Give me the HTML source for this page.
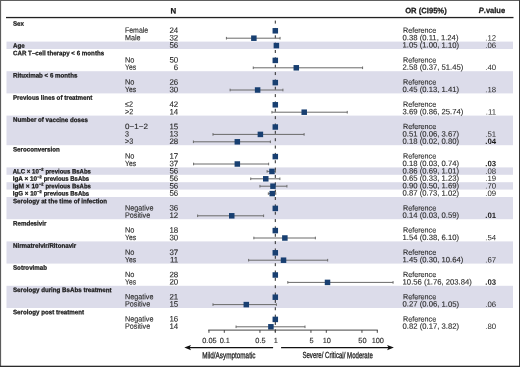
<!DOCTYPE html><html><head><meta charset="utf-8"><style>html,body{margin:0;padding:0;background:#fff}svg{display:block;will-change:transform}text{font-family:"Liberation Sans",sans-serif}.b{stroke:#1a1a1a;stroke-width:0.25px}.r{stroke:#2a2a2a;stroke-width:0.12px}.m{stroke:#222;stroke-width:0.3px}</style></head><body>
<svg width="520" height="367" viewBox="0 0 520 367">
<rect x="0" y="0" width="520" height="367" fill="#fff"/>
<rect x="6.5" y="41.60" width="506.5" height="7.40" fill="#dcdcea"/>
<rect x="6.5" y="71.20" width="506.5" height="22.20" fill="#dcdcea"/>
<rect x="6.5" y="115.60" width="506.5" height="29.60" fill="#dcdcea"/>
<rect x="6.5" y="167.40" width="506.5" height="7.40" fill="#dcdcea"/>
<rect x="6.5" y="182.20" width="506.5" height="7.40" fill="#dcdcea"/>
<rect x="6.5" y="197.00" width="506.5" height="22.20" fill="#dcdcea"/>
<rect x="6.5" y="241.40" width="506.5" height="22.20" fill="#dcdcea"/>
<rect x="6.5" y="285.80" width="506.5" height="22.20" fill="#dcdcea"/>
<text class="b" x="173.4" y="13.6" font-size="7.9" font-weight="bold" fill="#1a1a1a" text-anchor="middle" transform="rotate(0.05 173.4 13.6)">N</text>
<text class="b" x="405.2" y="13.2" font-size="7.9" font-weight="bold" fill="#1a1a1a" textLength="41.5" lengthAdjust="spacingAndGlyphs" transform="rotate(0.05 405.2 13.2)">OR (CI95%)</text>
<text class="b" x="478.8" y="12.9" font-size="7.9" font-weight="bold" fill="#1a1a1a" textLength="26.3" lengthAdjust="spacingAndGlyphs" transform="rotate(0.05 478.8 12.9)"><tspan font-style="italic">P</tspan>.value</text>
<rect x="6" y="16.9" width="507.5" height="1.3" fill="#222"/>
<line x1="275.3" y1="20.6" x2="275.3" y2="333" stroke="#2a2a2a" stroke-width="1" stroke-dasharray="3 4.35"/>
<text x="13" y="25.65" class="b" font-size="6.45" font-weight="bold" fill="#1a1a1a" textLength="11.00" lengthAdjust="spacingAndGlyphs" transform="rotate(0.05 13 25.65)">Sex</text>
<text x="125" y="32.80" class="r" font-size="7.7" fill="#2a2a2a" textLength="23.17" lengthAdjust="spacingAndGlyphs" transform="rotate(0.05 125 32.80)">Female</text>
<text x="178.2" y="33.00" class="r" font-size="7.9" fill="#2a2a2a" text-anchor="end" transform="rotate(0.05 178.2 33.00)">24</text>
<text x="403" y="32.80" class="r" font-size="7.4" fill="#2a2a2a" textLength="33.2" lengthAdjust="spacingAndGlyphs" transform="rotate(0.05 403 32.80)">Reference</text>
<rect x="272.55" y="28.05" width="5.5" height="5.5" fill="#183f71"/>
<text x="125" y="40.20" class="r" font-size="7.7" fill="#2a2a2a" textLength="15.60" lengthAdjust="spacingAndGlyphs" transform="rotate(0.05 125 40.20)">Male</text>
<text x="178.2" y="40.40" class="r" font-size="7.9" fill="#2a2a2a" text-anchor="end" transform="rotate(0.05 178.2 40.40)">32</text>
<text x="402.6" y="40.20" class="r" font-size="7.7" fill="#2a2a2a" transform="rotate(0.05 402.6 40.20)">0.38 (0.11, 1.24)</text>
<text x="496.1" y="40.50" font-size="7.8" fill="#2a2a2a" text-anchor="end" transform="rotate(0.05 496.1 40.50)">.12</text>
<line x1="226.41" y1="38.20" x2="280.06" y2="38.20" stroke="#6a6a6a" stroke-width="1"/>
<line x1="226.41" y1="36.90" x2="226.41" y2="39.50" stroke="#6a6a6a" stroke-width="1"/>
<line x1="280.06" y1="36.90" x2="280.06" y2="39.50" stroke="#6a6a6a" stroke-width="1"/>
<rect x="251.12" y="35.45" width="5.5" height="5.5" fill="#183f71"/>
<text x="13" y="47.85" class="b" font-size="6.45" font-weight="bold" fill="#1a1a1a" textLength="11.67" lengthAdjust="spacingAndGlyphs" transform="rotate(0.05 13 47.85)">Age</text>
<text x="178.2" y="47.80" class="r" font-size="7.9" fill="#2a2a2a" text-anchor="end" transform="rotate(0.05 178.2 47.80)">56</text>
<text x="402.6" y="47.60" class="r" font-size="7.7" fill="#2a2a2a" transform="rotate(0.05 402.6 47.60)">1.05 (1.00, 1.10)</text>
<text x="496.1" y="47.90" font-size="7.8" fill="#2a2a2a" text-anchor="end" transform="rotate(0.05 496.1 47.90)">.06</text>
<line x1="275.30" y1="45.60" x2="277.41" y2="45.60" stroke="#6a6a6a" stroke-width="1"/>
<line x1="275.30" y1="44.30" x2="275.30" y2="46.90" stroke="#6a6a6a" stroke-width="1"/>
<line x1="277.41" y1="44.30" x2="277.41" y2="46.90" stroke="#6a6a6a" stroke-width="1"/>
<rect x="273.63" y="42.85" width="5.5" height="5.5" fill="#183f71"/>
<text x="13" y="55.25" class="b" font-size="6.45" font-weight="bold" fill="#1a1a1a" textLength="91.17" lengthAdjust="spacingAndGlyphs" transform="rotate(0.05 13 55.25)">CAR T–cell therapy &lt; 6 months</text>
<text x="125" y="62.40" class="r" font-size="7.7" fill="#2a2a2a" textLength="9.46" lengthAdjust="spacingAndGlyphs" transform="rotate(0.05 125 62.40)">No</text>
<text x="178.2" y="62.60" class="r" font-size="7.9" fill="#2a2a2a" text-anchor="end" transform="rotate(0.05 178.2 62.60)">50</text>
<text x="403" y="62.40" class="r" font-size="7.4" fill="#2a2a2a" textLength="33.2" lengthAdjust="spacingAndGlyphs" transform="rotate(0.05 403 62.40)">Reference</text>
<rect x="272.55" y="57.65" width="5.5" height="5.5" fill="#183f71"/>
<text x="125" y="69.80" class="r" font-size="7.7" fill="#2a2a2a" textLength="11.09" lengthAdjust="spacingAndGlyphs" transform="rotate(0.05 125 69.80)">Yes</text>
<text x="178.2" y="70.00" class="r" font-size="7.9" fill="#2a2a2a" text-anchor="end" transform="rotate(0.05 178.2 70.00)">6</text>
<text x="402.6" y="69.80" class="r" font-size="7.7" fill="#2a2a2a" transform="rotate(0.05 402.6 69.80)">2.58 (0.37, 51.45)</text>
<text x="496.1" y="70.10" font-size="7.8" fill="#2a2a2a" text-anchor="end" transform="rotate(0.05 496.1 70.10)">.40</text>
<line x1="253.28" y1="67.80" x2="362.58" y2="67.80" stroke="#6a6a6a" stroke-width="1"/>
<line x1="253.28" y1="66.50" x2="253.28" y2="69.10" stroke="#6a6a6a" stroke-width="1"/>
<line x1="362.58" y1="66.50" x2="362.58" y2="69.10" stroke="#6a6a6a" stroke-width="1"/>
<rect x="293.54" y="65.05" width="5.5" height="5.5" fill="#183f71"/>
<text x="13" y="77.45" class="b" font-size="6.45" font-weight="bold" fill="#1a1a1a" textLength="64.38" lengthAdjust="spacingAndGlyphs" transform="rotate(0.05 13 77.45)">Rituximab &lt; 6 months</text>
<text x="125" y="84.60" class="r" font-size="7.7" fill="#2a2a2a" textLength="9.46" lengthAdjust="spacingAndGlyphs" transform="rotate(0.05 125 84.60)">No</text>
<text x="178.2" y="84.80" class="r" font-size="7.9" fill="#2a2a2a" text-anchor="end" transform="rotate(0.05 178.2 84.80)">26</text>
<text x="403" y="84.60" class="r" font-size="7.4" fill="#2a2a2a" textLength="33.2" lengthAdjust="spacingAndGlyphs" transform="rotate(0.05 403 84.60)">Reference</text>
<rect x="272.55" y="79.85" width="5.5" height="5.5" fill="#183f71"/>
<text x="125" y="92.00" class="r" font-size="7.7" fill="#2a2a2a" textLength="11.09" lengthAdjust="spacingAndGlyphs" transform="rotate(0.05 125 92.00)">Yes</text>
<text x="178.2" y="92.20" class="r" font-size="7.9" fill="#2a2a2a" text-anchor="end" transform="rotate(0.05 178.2 92.20)">30</text>
<text x="402.6" y="92.00" class="r" font-size="7.7" fill="#2a2a2a" transform="rotate(0.05 402.6 92.00)">0.45 (0.13, 1.41)</text>
<text x="496.1" y="92.30" font-size="7.8" fill="#2a2a2a" text-anchor="end" transform="rotate(0.05 496.1 92.30)">.18</text>
<line x1="230.11" y1="90.00" x2="282.91" y2="90.00" stroke="#6a6a6a" stroke-width="1"/>
<line x1="230.11" y1="88.70" x2="230.11" y2="91.30" stroke="#6a6a6a" stroke-width="1"/>
<line x1="282.91" y1="88.70" x2="282.91" y2="91.30" stroke="#6a6a6a" stroke-width="1"/>
<rect x="254.86" y="87.25" width="5.5" height="5.5" fill="#183f71"/>
<text x="13" y="99.65" class="b" font-size="6.45" font-weight="bold" fill="#1a1a1a" textLength="79.33" lengthAdjust="spacingAndGlyphs" transform="rotate(0.05 13 99.65)">Previous lines of treatment</text>
<text x="125" y="106.80" class="r" font-size="7.7" fill="#2a2a2a" textLength="7.96" lengthAdjust="spacingAndGlyphs" transform="rotate(0.05 125 106.80)">≤2</text>
<text x="178.2" y="107.00" class="r" font-size="7.9" fill="#2a2a2a" text-anchor="end" transform="rotate(0.05 178.2 107.00)">42</text>
<text x="403" y="106.80" class="r" font-size="7.4" fill="#2a2a2a" textLength="33.2" lengthAdjust="spacingAndGlyphs" transform="rotate(0.05 403 106.80)">Reference</text>
<rect x="272.55" y="102.05" width="5.5" height="5.5" fill="#183f71"/>
<text x="125" y="114.20" class="r" font-size="7.7" fill="#2a2a2a" textLength="8.21" lengthAdjust="spacingAndGlyphs" transform="rotate(0.05 125 114.20)">&gt;2</text>
<text x="178.2" y="114.40" class="r" font-size="7.9" fill="#2a2a2a" text-anchor="end" transform="rotate(0.05 178.2 114.40)">14</text>
<text x="402.6" y="114.20" class="r" font-size="7.7" fill="#2a2a2a" transform="rotate(0.05 402.6 114.20)">3.69 (0.86, 25.74)</text>
<text x="496.1" y="114.50" font-size="7.8" fill="#2a2a2a" text-anchor="end" transform="rotate(0.05 496.1 114.50)">.11</text>
<line x1="271.96" y1="112.20" x2="347.24" y2="112.20" stroke="#6a6a6a" stroke-width="1"/>
<line x1="271.96" y1="110.90" x2="271.96" y2="113.50" stroke="#6a6a6a" stroke-width="1"/>
<line x1="347.24" y1="110.90" x2="347.24" y2="113.50" stroke="#6a6a6a" stroke-width="1"/>
<rect x="301.47" y="109.45" width="5.5" height="5.5" fill="#183f71"/>
<text x="13" y="121.85" class="b" font-size="6.45" font-weight="bold" fill="#1a1a1a" textLength="74.87" lengthAdjust="spacingAndGlyphs" transform="rotate(0.05 13 121.85)">Number of vaccine doses</text>
<text x="125" y="129.00" class="r" font-size="7.7" fill="#2a2a2a" textLength="22.90" lengthAdjust="spacingAndGlyphs" transform="rotate(0.05 125 129.00)">0−1−2</text>
<text x="178.2" y="129.20" class="r" font-size="7.9" fill="#2a2a2a" text-anchor="end" transform="rotate(0.05 178.2 129.20)">15</text>
<text x="403" y="129.00" class="r" font-size="7.4" fill="#2a2a2a" textLength="33.2" lengthAdjust="spacingAndGlyphs" transform="rotate(0.05 403 129.00)">Reference</text>
<rect x="272.55" y="124.25" width="5.5" height="5.5" fill="#183f71"/>
<text x="125" y="136.40" class="r" font-size="7.7" fill="#2a2a2a" textLength="4.00" lengthAdjust="spacingAndGlyphs" transform="rotate(0.05 125 136.40)">3</text>
<text x="178.2" y="136.60" class="r" font-size="7.9" fill="#2a2a2a" text-anchor="end" transform="rotate(0.05 178.2 136.60)">13</text>
<text x="402.6" y="136.40" class="r" font-size="7.7" fill="#2a2a2a" transform="rotate(0.05 402.6 136.40)">0.51 (0.06, 3.67)</text>
<text x="496.1" y="136.70" font-size="7.8" fill="#2a2a2a" text-anchor="end" transform="rotate(0.05 496.1 136.70)">.51</text>
<line x1="212.99" y1="134.40" x2="304.10" y2="134.40" stroke="#6a6a6a" stroke-width="1"/>
<line x1="212.99" y1="133.10" x2="212.99" y2="135.70" stroke="#6a6a6a" stroke-width="1"/>
<line x1="304.10" y1="133.10" x2="304.10" y2="135.70" stroke="#6a6a6a" stroke-width="1"/>
<rect x="257.64" y="131.65" width="5.5" height="5.5" fill="#183f71"/>
<text x="125" y="143.80" class="r" font-size="7.7" fill="#2a2a2a" textLength="8.21" lengthAdjust="spacingAndGlyphs" transform="rotate(0.05 125 143.80)">&gt;3</text>
<text x="178.2" y="144.00" class="r" font-size="7.9" fill="#2a2a2a" text-anchor="end" transform="rotate(0.05 178.2 144.00)">28</text>
<text x="402.6" y="143.80" class="r" font-size="7.7" fill="#2a2a2a" transform="rotate(0.05 402.6 143.80)">0.18 (0.02, 0.80)</text>
<text x="496.1" y="144.10" font-size="7.8" fill="#1a1a1a" text-anchor="end" font-weight="bold" transform="rotate(0.05 496.1 144.10)">.04</text>
<line x1="193.40" y1="141.80" x2="270.36" y2="141.80" stroke="#6a6a6a" stroke-width="1"/>
<line x1="193.40" y1="140.50" x2="193.40" y2="143.10" stroke="#6a6a6a" stroke-width="1"/>
<line x1="270.36" y1="140.50" x2="270.36" y2="143.10" stroke="#6a6a6a" stroke-width="1"/>
<rect x="234.57" y="139.05" width="5.5" height="5.5" fill="#183f71"/>
<text x="13" y="151.45" class="b" font-size="6.45" font-weight="bold" fill="#1a1a1a" textLength="46.71" lengthAdjust="spacingAndGlyphs" transform="rotate(0.05 13 151.45)">Seroconversion</text>
<text x="125" y="158.60" class="r" font-size="7.7" fill="#2a2a2a" textLength="9.46" lengthAdjust="spacingAndGlyphs" transform="rotate(0.05 125 158.60)">No</text>
<text x="178.2" y="158.80" class="r" font-size="7.9" fill="#2a2a2a" text-anchor="end" transform="rotate(0.05 178.2 158.80)">17</text>
<text x="403" y="158.60" class="r" font-size="7.4" fill="#2a2a2a" textLength="33.2" lengthAdjust="spacingAndGlyphs" transform="rotate(0.05 403 158.60)">Reference</text>
<rect x="272.55" y="153.85" width="5.5" height="5.5" fill="#183f71"/>
<text x="125" y="166.00" class="r" font-size="7.7" fill="#2a2a2a" textLength="11.09" lengthAdjust="spacingAndGlyphs" transform="rotate(0.05 125 166.00)">Yes</text>
<text x="178.2" y="166.20" class="r" font-size="7.9" fill="#2a2a2a" text-anchor="end" transform="rotate(0.05 178.2 166.20)">37</text>
<text x="402.6" y="166.00" class="r" font-size="7.7" fill="#2a2a2a" transform="rotate(0.05 402.6 166.00)">0.18 (0.03, 0.74)</text>
<text x="496.1" y="166.30" font-size="7.8" fill="#1a1a1a" text-anchor="end" font-weight="bold" transform="rotate(0.05 496.1 166.30)">.03</text>
<line x1="193.59" y1="164.00" x2="268.63" y2="164.00" stroke="#6a6a6a" stroke-width="1"/>
<line x1="193.59" y1="162.70" x2="193.59" y2="165.30" stroke="#6a6a6a" stroke-width="1"/>
<line x1="268.63" y1="162.70" x2="268.63" y2="165.30" stroke="#6a6a6a" stroke-width="1"/>
<rect x="234.57" y="161.25" width="5.5" height="5.5" fill="#183f71"/>
<text x="12.7" y="173.40" class="b" font-size="6.45" font-weight="bold" fill="#1a1a1a" textLength="26.10" lengthAdjust="spacingAndGlyphs" transform="rotate(0.05 12.7 173.40)">ALC × 10</text>
<text x="38.90" y="170.80" class="b" font-size="4.0" font-weight="bold" fill="#1a1a1a" transform="rotate(0.05 38.90 170.80)">−2</text>
<text x="45.40" y="173.40" class="b" font-size="6.45" font-weight="bold" fill="#1a1a1a" textLength="45.50" lengthAdjust="spacingAndGlyphs" transform="rotate(0.05 45.40 173.40)">previous BsAbs</text>
<text x="178.2" y="173.60" class="r" font-size="7.9" fill="#2a2a2a" text-anchor="end" transform="rotate(0.05 178.2 173.60)">56</text>
<text x="402.6" y="173.40" class="r" font-size="7.7" fill="#2a2a2a" transform="rotate(0.05 402.6 173.40)">0.86 (0.69, 1.01)</text>
<text x="496.1" y="173.70" font-size="7.8" fill="#2a2a2a" text-anchor="end" transform="rotate(0.05 496.1 173.70)">.08</text>
<line x1="267.08" y1="171.40" x2="275.52" y2="171.40" stroke="#6a6a6a" stroke-width="1"/>
<line x1="267.08" y1="170.10" x2="267.08" y2="172.70" stroke="#6a6a6a" stroke-width="1"/>
<line x1="275.52" y1="170.10" x2="275.52" y2="172.70" stroke="#6a6a6a" stroke-width="1"/>
<rect x="269.21" y="168.65" width="5.5" height="5.5" fill="#183f71"/>
<text x="12.7" y="180.80" class="b" font-size="6.45" font-weight="bold" fill="#1a1a1a" textLength="24.40" lengthAdjust="spacingAndGlyphs" transform="rotate(0.05 12.7 180.80)">IgA × 10</text>
<text x="37.20" y="178.20" class="b" font-size="4.0" font-weight="bold" fill="#1a1a1a" transform="rotate(0.05 37.20 178.20)">−2</text>
<text x="43.70" y="180.80" class="b" font-size="6.45" font-weight="bold" fill="#1a1a1a" textLength="45.50" lengthAdjust="spacingAndGlyphs" transform="rotate(0.05 43.70 180.80)">previous BsAbs</text>
<text x="178.2" y="181.00" class="r" font-size="7.9" fill="#2a2a2a" text-anchor="end" transform="rotate(0.05 178.2 181.00)">56</text>
<text x="402.6" y="180.80" class="r" font-size="7.7" fill="#2a2a2a" transform="rotate(0.05 402.6 180.80)">0.65 (0.33, 1.23)</text>
<text x="496.1" y="181.10" font-size="7.8" fill="#2a2a2a" text-anchor="end" transform="rotate(0.05 496.1 181.10)">.19</text>
<line x1="250.74" y1="178.80" x2="279.89" y2="178.80" stroke="#6a6a6a" stroke-width="1"/>
<line x1="250.74" y1="177.50" x2="250.74" y2="180.10" stroke="#6a6a6a" stroke-width="1"/>
<line x1="279.89" y1="177.50" x2="279.89" y2="180.10" stroke="#6a6a6a" stroke-width="1"/>
<rect x="263.01" y="176.05" width="5.5" height="5.5" fill="#183f71"/>
<text x="12.7" y="188.20" class="b" font-size="6.45" font-weight="bold" fill="#1a1a1a" textLength="26.10" lengthAdjust="spacingAndGlyphs" transform="rotate(0.05 12.7 188.20)">IgM × 10</text>
<text x="38.90" y="185.60" class="b" font-size="4.0" font-weight="bold" fill="#1a1a1a" transform="rotate(0.05 38.90 185.60)">−2</text>
<text x="45.40" y="188.20" class="b" font-size="6.45" font-weight="bold" fill="#1a1a1a" textLength="45.50" lengthAdjust="spacingAndGlyphs" transform="rotate(0.05 45.40 188.20)">previous BsAbs</text>
<text x="178.2" y="188.40" class="r" font-size="7.9" fill="#2a2a2a" text-anchor="end" transform="rotate(0.05 178.2 188.40)">56</text>
<text x="402.6" y="188.20" class="r" font-size="7.7" fill="#2a2a2a" transform="rotate(0.05 402.6 188.20)">0.90 (0.50, 1.69)</text>
<text x="496.1" y="188.50" font-size="7.8" fill="#2a2a2a" text-anchor="end" transform="rotate(0.05 496.1 188.50)">.70</text>
<line x1="259.95" y1="186.20" x2="286.92" y2="186.20" stroke="#6a6a6a" stroke-width="1"/>
<line x1="259.95" y1="184.90" x2="259.95" y2="187.50" stroke="#6a6a6a" stroke-width="1"/>
<line x1="286.92" y1="184.90" x2="286.92" y2="187.50" stroke="#6a6a6a" stroke-width="1"/>
<rect x="270.22" y="183.45" width="5.5" height="5.5" fill="#183f71"/>
<text x="12.7" y="195.60" class="b" font-size="6.45" font-weight="bold" fill="#1a1a1a" textLength="24.40" lengthAdjust="spacingAndGlyphs" transform="rotate(0.05 12.7 195.60)">IgG × 10</text>
<text x="37.20" y="193.00" class="b" font-size="4.0" font-weight="bold" fill="#1a1a1a" transform="rotate(0.05 37.20 193.00)">−2</text>
<text x="43.70" y="195.60" class="b" font-size="6.45" font-weight="bold" fill="#1a1a1a" textLength="45.50" lengthAdjust="spacingAndGlyphs" transform="rotate(0.05 43.70 195.60)">previous BsAbs</text>
<text x="178.2" y="195.80" class="r" font-size="7.9" fill="#2a2a2a" text-anchor="end" transform="rotate(0.05 178.2 195.80)">56</text>
<text x="402.6" y="195.60" class="r" font-size="7.7" fill="#2a2a2a" transform="rotate(0.05 402.6 195.60)">0.87 (0.73, 1.02)</text>
<text x="496.1" y="195.90" font-size="7.8" fill="#2a2a2a" text-anchor="end" transform="rotate(0.05 496.1 195.90)">.09</text>
<line x1="268.33" y1="193.60" x2="275.74" y2="193.60" stroke="#6a6a6a" stroke-width="1"/>
<line x1="268.33" y1="192.30" x2="268.33" y2="194.90" stroke="#6a6a6a" stroke-width="1"/>
<line x1="275.74" y1="192.30" x2="275.74" y2="194.90" stroke="#6a6a6a" stroke-width="1"/>
<rect x="269.47" y="190.85" width="5.5" height="5.5" fill="#183f71"/>
<text x="13" y="203.25" class="b" font-size="6.45" font-weight="bold" fill="#1a1a1a" textLength="94.08" lengthAdjust="spacingAndGlyphs" transform="rotate(0.05 13 203.25)">Serology at the time of infection</text>
<text x="125" y="210.40" class="r" font-size="7.7" fill="#2a2a2a" textLength="28.42" lengthAdjust="spacingAndGlyphs" transform="rotate(0.05 125 210.40)">Negative</text>
<text x="178.2" y="210.60" class="r" font-size="7.9" fill="#2a2a2a" text-anchor="end" transform="rotate(0.05 178.2 210.60)">36</text>
<text x="403" y="210.40" class="r" font-size="7.4" fill="#2a2a2a" textLength="33.2" lengthAdjust="spacingAndGlyphs" transform="rotate(0.05 403 210.40)">Reference</text>
<rect x="272.55" y="205.65" width="5.5" height="5.5" fill="#183f71"/>
<text x="125" y="217.80" class="r" font-size="7.7" fill="#2a2a2a" textLength="25.21" lengthAdjust="spacingAndGlyphs" transform="rotate(0.05 125 217.80)">Positive</text>
<text x="178.2" y="218.00" class="r" font-size="7.9" fill="#2a2a2a" text-anchor="end" transform="rotate(0.05 178.2 218.00)">12</text>
<text x="402.6" y="217.80" class="r" font-size="7.7" fill="#2a2a2a" transform="rotate(0.05 402.6 217.80)">0.14 (0.03, 0.59)</text>
<text x="496.1" y="218.10" font-size="7.8" fill="#1a1a1a" text-anchor="end" font-weight="bold" transform="rotate(0.05 496.1 218.10)">.01</text>
<line x1="197.63" y1="215.80" x2="263.61" y2="215.80" stroke="#6a6a6a" stroke-width="1"/>
<line x1="197.63" y1="214.50" x2="197.63" y2="217.10" stroke="#6a6a6a" stroke-width="1"/>
<line x1="263.61" y1="214.50" x2="263.61" y2="217.10" stroke="#6a6a6a" stroke-width="1"/>
<rect x="229.00" y="213.05" width="5.5" height="5.5" fill="#183f71"/>
<text x="13" y="225.45" class="b" font-size="6.45" font-weight="bold" fill="#1a1a1a" textLength="33.32" lengthAdjust="spacingAndGlyphs" transform="rotate(0.05 13 225.45)">Remdesivir</text>
<text x="125" y="232.60" class="r" font-size="7.7" fill="#2a2a2a" textLength="9.46" lengthAdjust="spacingAndGlyphs" transform="rotate(0.05 125 232.60)">No</text>
<text x="178.2" y="232.80" class="r" font-size="7.9" fill="#2a2a2a" text-anchor="end" transform="rotate(0.05 178.2 232.80)">18</text>
<text x="403" y="232.60" class="r" font-size="7.4" fill="#2a2a2a" textLength="33.2" lengthAdjust="spacingAndGlyphs" transform="rotate(0.05 403 232.60)">Reference</text>
<rect x="272.55" y="227.85" width="5.5" height="5.5" fill="#183f71"/>
<text x="125" y="240.00" class="r" font-size="7.7" fill="#2a2a2a" textLength="11.09" lengthAdjust="spacingAndGlyphs" transform="rotate(0.05 125 240.00)">Yes</text>
<text x="178.2" y="240.20" class="r" font-size="7.9" fill="#2a2a2a" text-anchor="end" transform="rotate(0.05 178.2 240.20)">30</text>
<text x="402.6" y="240.00" class="r" font-size="7.7" fill="#2a2a2a" transform="rotate(0.05 402.6 240.00)">1.54 (0.38, 6.10)</text>
<text x="496.1" y="240.30" font-size="7.8" fill="#2a2a2a" text-anchor="end" transform="rotate(0.05 496.1 240.30)">.54</text>
<line x1="253.87" y1="238.00" x2="315.35" y2="238.00" stroke="#6a6a6a" stroke-width="1"/>
<line x1="253.87" y1="236.70" x2="253.87" y2="239.30" stroke="#6a6a6a" stroke-width="1"/>
<line x1="315.35" y1="236.70" x2="315.35" y2="239.30" stroke="#6a6a6a" stroke-width="1"/>
<rect x="282.11" y="235.25" width="5.5" height="5.5" fill="#183f71"/>
<text x="13" y="247.65" class="b" font-size="6.45" font-weight="bold" fill="#1a1a1a" textLength="63.19" lengthAdjust="spacingAndGlyphs" transform="rotate(0.05 13 247.65)">Nirmatrelvir/Ritonavir</text>
<text x="125" y="254.80" class="r" font-size="7.7" fill="#2a2a2a" textLength="9.46" lengthAdjust="spacingAndGlyphs" transform="rotate(0.05 125 254.80)">No</text>
<text x="178.2" y="255.00" class="r" font-size="7.9" fill="#2a2a2a" text-anchor="end" transform="rotate(0.05 178.2 255.00)">37</text>
<text x="403" y="254.80" class="r" font-size="7.4" fill="#2a2a2a" textLength="33.2" lengthAdjust="spacingAndGlyphs" transform="rotate(0.05 403 254.80)">Reference</text>
<rect x="272.55" y="250.05" width="5.5" height="5.5" fill="#183f71"/>
<text x="125" y="262.20" class="r" font-size="7.7" fill="#2a2a2a" textLength="11.09" lengthAdjust="spacingAndGlyphs" transform="rotate(0.05 125 262.20)">Yes</text>
<text x="178.2" y="262.40" class="r" font-size="7.9" fill="#2a2a2a" text-anchor="end" transform="rotate(0.05 178.2 262.40)">11</text>
<text x="402.6" y="262.20" class="r" font-size="7.7" fill="#2a2a2a" transform="rotate(0.05 402.6 262.20)">1.45 (0.30, 10.64)</text>
<text x="496.1" y="262.50" font-size="7.8" fill="#2a2a2a" text-anchor="end" transform="rotate(0.05 496.1 262.50)">.67</text>
<line x1="248.63" y1="260.20" x2="327.67" y2="260.20" stroke="#6a6a6a" stroke-width="1"/>
<line x1="248.63" y1="258.90" x2="248.63" y2="261.50" stroke="#6a6a6a" stroke-width="1"/>
<line x1="327.67" y1="258.90" x2="327.67" y2="261.50" stroke="#6a6a6a" stroke-width="1"/>
<rect x="280.78" y="257.45" width="5.5" height="5.5" fill="#183f71"/>
<text x="13" y="269.85" class="b" font-size="6.45" font-weight="bold" fill="#1a1a1a" textLength="33.99" lengthAdjust="spacingAndGlyphs" transform="rotate(0.05 13 269.85)">Sotrovimab</text>
<text x="125" y="277.00" class="r" font-size="7.7" fill="#2a2a2a" textLength="9.46" lengthAdjust="spacingAndGlyphs" transform="rotate(0.05 125 277.00)">No</text>
<text x="178.2" y="277.20" class="r" font-size="7.9" fill="#2a2a2a" text-anchor="end" transform="rotate(0.05 178.2 277.20)">28</text>
<text x="403" y="277.00" class="r" font-size="7.4" fill="#2a2a2a" textLength="33.2" lengthAdjust="spacingAndGlyphs" transform="rotate(0.05 403 277.00)">Reference</text>
<rect x="272.55" y="272.25" width="5.5" height="5.5" fill="#183f71"/>
<text x="125" y="284.40" class="r" font-size="7.7" fill="#2a2a2a" textLength="11.09" lengthAdjust="spacingAndGlyphs" transform="rotate(0.05 125 284.40)">Yes</text>
<text x="178.2" y="284.60" class="r" font-size="7.9" fill="#2a2a2a" text-anchor="end" transform="rotate(0.05 178.2 284.60)">20</text>
<text x="402.6" y="284.40" class="r" font-size="7.7" fill="#2a2a2a" transform="rotate(0.05 402.6 284.40)">10.56 (1.76, 203.84)</text>
<text x="496.1" y="284.70" font-size="7.8" fill="#1a1a1a" text-anchor="end" font-weight="bold" transform="rotate(0.05 496.1 284.70)">.03</text>
<line x1="287.82" y1="282.40" x2="393.07" y2="282.40" stroke="#6a6a6a" stroke-width="1"/>
<line x1="287.82" y1="281.10" x2="287.82" y2="283.70" stroke="#6a6a6a" stroke-width="1"/>
<line x1="393.07" y1="281.10" x2="393.07" y2="283.70" stroke="#6a6a6a" stroke-width="1"/>
<rect x="324.76" y="279.65" width="5.5" height="5.5" fill="#183f71"/>
<text x="13" y="292.05" class="b" font-size="6.45" font-weight="bold" fill="#1a1a1a" textLength="98.55" lengthAdjust="spacingAndGlyphs" transform="rotate(0.05 13 292.05)">Serology during BsAbs treatment</text>
<text x="125" y="299.20" class="r" font-size="7.7" fill="#2a2a2a" textLength="28.42" lengthAdjust="spacingAndGlyphs" transform="rotate(0.05 125 299.20)">Negative</text>
<text x="178.2" y="299.40" class="r" font-size="7.9" fill="#2a2a2a" text-anchor="end" transform="rotate(0.05 178.2 299.40)">21</text>
<text x="403" y="299.20" class="r" font-size="7.4" fill="#2a2a2a" textLength="33.2" lengthAdjust="spacingAndGlyphs" transform="rotate(0.05 403 299.20)">Reference</text>
<rect x="272.55" y="294.45" width="5.5" height="5.5" fill="#183f71"/>
<text x="125" y="306.60" class="r" font-size="7.7" fill="#2a2a2a" textLength="25.21" lengthAdjust="spacingAndGlyphs" transform="rotate(0.05 125 306.60)">Positive</text>
<text x="178.2" y="306.80" class="r" font-size="7.9" fill="#2a2a2a" text-anchor="end" transform="rotate(0.05 178.2 306.80)">15</text>
<text x="402.6" y="306.60" class="r" font-size="7.7" fill="#2a2a2a" transform="rotate(0.05 402.6 306.60)">0.27 (0.06, 1.05)</text>
<text x="496.1" y="306.90" font-size="7.8" fill="#2a2a2a" text-anchor="end" transform="rotate(0.05 496.1 306.90)">.06</text>
<line x1="212.99" y1="304.60" x2="276.38" y2="304.60" stroke="#6a6a6a" stroke-width="1"/>
<line x1="212.99" y1="303.30" x2="212.99" y2="305.90" stroke="#6a6a6a" stroke-width="1"/>
<line x1="276.38" y1="303.30" x2="276.38" y2="305.90" stroke="#6a6a6a" stroke-width="1"/>
<rect x="243.55" y="301.85" width="5.5" height="5.5" fill="#183f71"/>
<text x="13" y="314.25" class="b" font-size="6.45" font-weight="bold" fill="#1a1a1a" textLength="71.08" lengthAdjust="spacingAndGlyphs" transform="rotate(0.05 13 314.25)">Serology post treatment</text>
<text x="125" y="321.40" class="r" font-size="7.7" fill="#2a2a2a" textLength="28.42" lengthAdjust="spacingAndGlyphs" transform="rotate(0.05 125 321.40)">Negative</text>
<text x="178.2" y="321.60" class="r" font-size="7.9" fill="#2a2a2a" text-anchor="end" transform="rotate(0.05 178.2 321.60)">16</text>
<text x="403" y="321.40" class="r" font-size="7.4" fill="#2a2a2a" textLength="33.2" lengthAdjust="spacingAndGlyphs" transform="rotate(0.05 403 321.40)">Reference</text>
<rect x="272.55" y="316.65" width="5.5" height="5.5" fill="#183f71"/>
<text x="125" y="328.80" class="r" font-size="7.7" fill="#2a2a2a" textLength="25.21" lengthAdjust="spacingAndGlyphs" transform="rotate(0.05 125 328.80)">Positive</text>
<text x="178.2" y="329.00" class="r" font-size="7.9" fill="#2a2a2a" text-anchor="end" transform="rotate(0.05 178.2 329.00)">14</text>
<text x="402.6" y="328.80" class="r" font-size="7.7" fill="#2a2a2a" transform="rotate(0.05 402.6 328.80)">0.82 (0.17, 3.82)</text>
<text x="496.1" y="329.10" font-size="7.8" fill="#2a2a2a" text-anchor="end" transform="rotate(0.05 496.1 329.10)">.80</text>
<line x1="236.05" y1="326.80" x2="304.99" y2="326.80" stroke="#6a6a6a" stroke-width="1"/>
<line x1="236.05" y1="325.50" x2="236.05" y2="328.10" stroke="#6a6a6a" stroke-width="1"/>
<line x1="304.99" y1="325.50" x2="304.99" y2="328.10" stroke="#6a6a6a" stroke-width="1"/>
<rect x="268.15" y="324.05" width="5.5" height="5.5" fill="#183f71"/>
<line x1="208.2" y1="330.1" x2="377.80" y2="330.1" stroke="#444" stroke-width="1"/>
<line x1="208.95" y1="330" x2="208.95" y2="332.8" stroke="#444" stroke-width="1"/>
<text x="209.45" y="343" class="r" font-size="7.4" fill="#2a2a2a" text-anchor="middle" transform="rotate(0.05 209.45 343)">0.05</text>
<line x1="224.30" y1="330" x2="224.30" y2="332.8" stroke="#444" stroke-width="1"/>
<text x="224.80" y="343" class="r" font-size="7.4" fill="#2a2a2a" text-anchor="middle" transform="rotate(0.05 224.80 343)">0.1</text>
<line x1="259.95" y1="330" x2="259.95" y2="332.8" stroke="#444" stroke-width="1"/>
<text x="260.45" y="343" class="r" font-size="7.4" fill="#2a2a2a" text-anchor="middle" transform="rotate(0.05 260.45 343)">0.5</text>
<line x1="275.30" y1="330" x2="275.30" y2="332.8" stroke="#444" stroke-width="1"/>
<text x="275.80" y="343" class="r" font-size="7.4" fill="#2a2a2a" text-anchor="middle" transform="rotate(0.05 275.80 343)">1</text>
<line x1="310.95" y1="330" x2="310.95" y2="332.8" stroke="#444" stroke-width="1"/>
<text x="311.45" y="343" class="r" font-size="7.4" fill="#2a2a2a" text-anchor="middle" transform="rotate(0.05 311.45 343)">5</text>
<line x1="326.30" y1="330" x2="326.30" y2="332.8" stroke="#444" stroke-width="1"/>
<text x="326.80" y="343" class="r" font-size="7.4" fill="#2a2a2a" text-anchor="middle" transform="rotate(0.05 326.80 343)">10</text>
<line x1="361.95" y1="330" x2="361.95" y2="332.8" stroke="#444" stroke-width="1"/>
<text x="362.45" y="343" class="r" font-size="7.4" fill="#2a2a2a" text-anchor="middle" transform="rotate(0.05 362.45 343)">50</text>
<line x1="377.30" y1="330" x2="377.30" y2="332.8" stroke="#444" stroke-width="1"/>
<text x="377.80" y="343" class="r" font-size="7.4" fill="#2a2a2a" text-anchor="middle" transform="rotate(0.05 377.80 343)">100</text>
<line x1="188" y1="347.6" x2="273.1" y2="347.6" stroke="#111" stroke-width="1.25"/>
<path d="M184.3 347.6 L191 344.9 L189.6 347.6 L191 350.3 Z" fill="#111"/>
<line x1="281.1" y1="347.6" x2="390" y2="347.6" stroke="#111" stroke-width="1.25"/>
<path d="M393.9 347.6 L387.1 344.9 L388.5 347.6 L387.1 350.3 Z" fill="#111"/>
<text x="202.2" y="358.2" class="m" font-size="8.8" fill="#222" textLength="53.3" lengthAdjust="spacingAndGlyphs" transform="rotate(0.05 202.2 358.2)">Mild/Asymptomatic</text>
<text x="302.4" y="358.1" class="m" font-size="8.8" fill="#222" textLength="70.4" lengthAdjust="spacingAndGlyphs" transform="rotate(0.05 302.4 358.1)">Severe/ Critical/ Moderate</text>
<rect x="0" y="0" width="520" height="1" fill="#606060"/>
<rect x="0" y="0" width="1.1" height="367" fill="#5c5c5c"/>
<rect x="519" y="0" width="1" height="367" fill="#383838"/>
<rect x="0" y="365.7" width="520" height="1.3" fill="#2c2c2c"/>
</svg></body></html>
